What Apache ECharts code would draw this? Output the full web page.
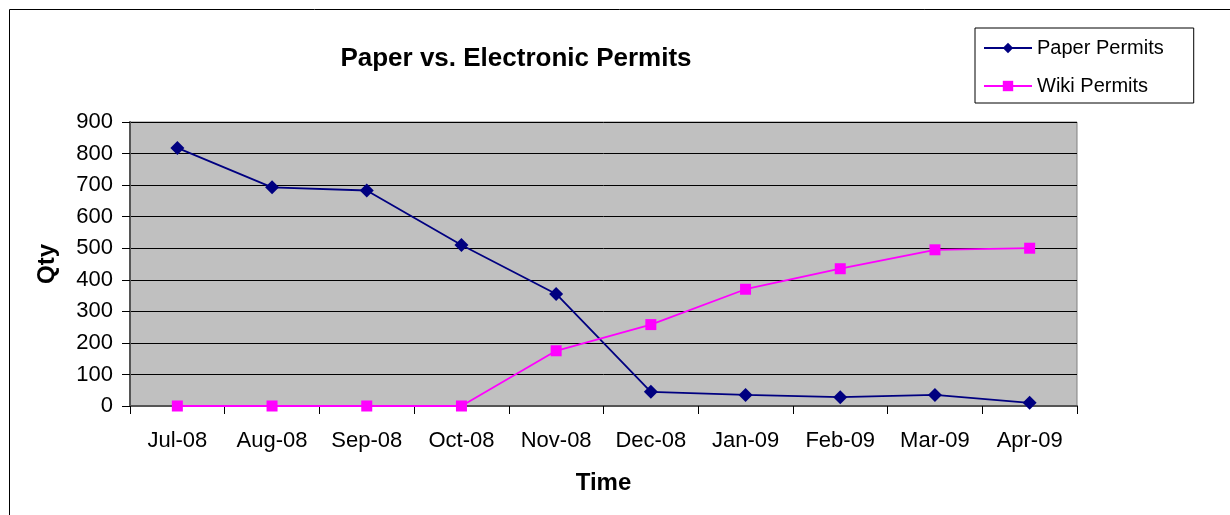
<!DOCTYPE html>
<html>
<head>
<meta charset="utf-8">
<script src="https://cdn.jsdelivr.net/npm/echarts@6/dist/echarts.min.js"></script>
<style>
html, body { margin: 0; padding: 0; background: #fff; }
#container { width: 1230px; height: 515px; }
</style>
</head>
<body>
<div id="container"></div>
<script>
var months = ['Jul-08', 'Aug-08', 'Sep-08', 'Oct-08', 'Nov-08', 'Dec-08', 'Jan-09', 'Feb-09', 'Mar-09', 'Apr-09'];
var paperPermits = [818, 693, 683, 510, 355, 45, 35, 28, 35, 10];
var wikiPermits = [0, 0, 0, 0, 175, 258, 370, 435, 495, 500];
var yTicks = [0, 900, 100]; // min, max, interval

var dom = document.getElementById('container');
var myChart = echarts.init(dom);
var fontName = 'Liberation Sans, Arial, sans-serif';

var option = {
    backgroundColor: '#fff',
    animation: false,
    title: {
        text: 'Paper vs. Electronic Permits',
        left: 511,
        top: 41,
        textAlign: 'center',
        textStyle: { fontFamily: fontName, fontSize: 26, fontWeight: 'bold', color: '#000' }
    },
    legend: {
        orient: 'vertical',
        left: 975,
        top: 28,
        width: 219,
        height: 75,
        padding: [10, 30, 7, 8],
        itemGap: 18,
        itemWidth: 48,
        itemHeight: 13,
        borderColor: '#000',
        borderWidth: 1,
        textStyle: { fontFamily: fontName, fontSize: 20, color: '#000' },
        data: ['Paper Permits', 'Wiki Permits']
    },
    graphic: [
        {
            type: 'polyline',
            shape: { points: [[9.5, 515], [9.5, 9.5], [1230, 9.5]] },
            style: { stroke: '#000', lineWidth: 1, fill: null },
            silent: true
        }
    ],
    grid: {
        left: 130,
        right: 153,
        top: 122,
        bottom: 109,
        show: true,
        backgroundColor: '#c0c0c0',
        borderColor: '#808080',
        borderWidth: 1
    },
    xAxis: {
        type: 'category',
        data: months,
        boundaryGap: true,
        name: 'Time',
        nameLocation: 'middle',
        nameGap: 65,
        nameTextStyle: { fontFamily: fontName, fontSize: 24, fontWeight: 'bold', color: '#000' },
        axisLine: { lineStyle: { color: '#555', width: 2 } },
        axisTick: { show: true, length: 8, lineStyle: { color: '#000' } },
        axisLabel: { fontFamily: fontName, fontSize: 22, color: '#000', margin: 24 },
        splitLine: { show: false }
    },
    yAxis: {
        type: 'value',
        min: yTicks[0],
        max: yTicks[1],
        interval: yTicks[2],
        name: 'Qty',
        nameLocation: 'middle',
        nameGap: 71,
        nameTextStyle: { fontFamily: fontName, fontSize: 24, fontWeight: 'bold', color: '#000' },
        axisLine: { show: true, lineStyle: { color: '#555', width: 2 } },
        axisTick: { show: true, length: 8, inside: false, lineStyle: { color: '#000' } },
        axisLabel: { fontFamily: fontName, fontSize: 22, color: '#000', margin: 17 },
        splitLine: { show: true, lineStyle: { color: '#000', width: 1 } }
    },
    series: [
        {
            name: 'Paper Permits',
            type: 'line',
            data: paperPermits,
            symbol: 'diamond',
            symbolSize: 14,
            itemStyle: { color: '#000080' },
            lineStyle: { color: '#000080', width: 1.8 }
        },
        {
            name: 'Wiki Permits',
            type: 'line',
            data: wikiPermits,
            symbol: 'rect',
            symbolSize: 11,
            itemStyle: { color: '#ff00ff' },
            lineStyle: { color: '#ff00ff', width: 1.8 }
        }
    ]
};
myChart.setOption(option, true);
</script>
</body>
</html>
